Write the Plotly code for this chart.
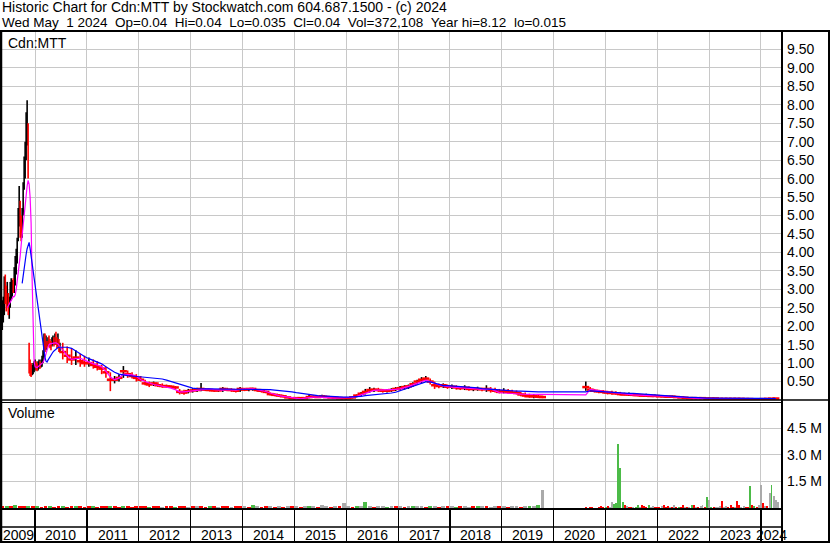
import plotly.graph_objects as go
import pandas as pd
import numpy as np

# ---------------- DATA ----------------
# weekly bars, mid-May 2009 .. late June 2010
wk_start = "2009-05-15"
wk_hi = [2.7, 2.8, 3.35, 3.4, 3.1, 3.2, 2.9, 2.8, 3.2, 3.3,
         3.25, 3.3, 3.6, 3.9, 4.1, 4.4, 5.2, 5.8, 5.4, 5.0,
         5.2, 5.9, 6.6, 7.0, 7.8, 8.12, 7.5, 1.55, 1.1, 1.0,
         0.95, 1.0, 1.05, 1.1, 1.05, 1.0, 1.05, 1.1, 1.05, 1.1,
         1.2, 1.35, 1.8, 1.8, 1.75, 1.6, 1.7, 1.75, 1.65, 1.6,
         1.7, 1.75, 1.7, 1.8, 1.85, 1.7, 1.8, 1.65, 1.55]
wk_lo = [1.9, 2.1, 2.3, 2.6, 2.4, 2.5, 2.3, 2.2, 2.5, 2.7,
         2.8, 2.9, 2.9, 3.1, 3.4, 3.7, 4.3, 4.7, 4.4, 4.3,
         4.4, 5.0, 5.7, 6.0, 6.5, 6.9, 6.0, 0.72, 0.65, 0.62,
         0.67, 0.7, 0.75, 0.8, 0.8, 0.78, 0.8, 0.85, 0.85, 0.88,
         0.9, 1.0, 1.15, 1.3, 1.35, 1.4, 1.45, 1.45, 1.4, 1.35,
         1.45, 1.5, 1.45, 1.5, 1.5, 1.4, 1.45, 1.3, 1.3]
wk_cl = [2.0, 2.4, 3.0, 2.8, 2.6, 2.9, 2.4, 2.5, 2.9, 3.0,
         3.1, 3.0, 3.4, 3.6, 3.9, 4.2, 4.9, 5.3, 4.7, 4.6,
         5.0, 5.6, 6.3, 6.8, 7.2, 7.6, 6.5, 0.9, 0.8, 0.75,
         0.8, 0.85, 0.9, 0.95, 0.9, 0.85, 0.95, 1.0, 0.95, 1.0,
         1.05, 1.25, 1.55, 1.5, 1.55, 1.5, 1.6, 1.55, 1.5, 1.45,
         1.6, 1.6, 1.55, 1.6, 1.55, 1.5, 1.55, 1.4, 1.4]
wk_ma_short = [None, None, None, None, None, 2.5, 2.55, 2.6, 2.65, 2.7,
               2.75, 2.8, 2.8, 2.85, 3.0, 3.2, 3.4, 3.6, 3.9, 4.2,
               4.5, 4.7, 5.0, 5.3, 5.55, 5.8, 5.95, 5.85, 5.5, 4.8,
               3.3, 1.8, 1.05, 0.9, 0.88, 0.88, 0.9, 0.92, 0.95, 0.97,
               1.0, 1.02, 1.08, 1.15, 1.25, 1.35, 1.45, 1.5, 1.52, 1.53,
               1.54, 1.55, 1.55, 1.55, 1.55, 1.54, 1.52, 1.48, 1.45]
wk_ma_long = [None, None, None, None, None, None, None, None, None, None,
              None, None, None, None, None, None, None, None, None, None,
              3.16, 3.4, 3.6, 3.8, 3.95, 4.1, 4.2, 4.27, 4.1, 3.9,
              3.7, 3.5, 3.3, 3.1, 2.9, 2.7, 2.5, 2.3, 2.1, 1.9,
              1.7, 1.5, 1.3, 1.15, 1.05, 1.03, 1.08, 1.13, 1.18, 1.22,
              1.26, 1.3, 1.33, 1.36, 1.38, 1.4, 1.42, 1.43, 1.43]

# monthly bars, Jul 2010 .. Apr 2024 (None = trading halt)
mo_start = "2010-07-01"
mo_hi = [1.55, 1.45, 1.4, 1.35, 1.25, 1.2,
         1.15, 1.1, 1.05, 0.95, 0.9, 0.75, 0.65, 0.7, 0.92, 0.8, 0.75, 0.7,
         0.65, 0.55, 0.5, 0.5, 0.48, 0.45, 0.42, 0.4, 0.38, 0.3, 0.28, 0.3,
         0.32, 0.33, 0.46, 0.32, 0.3, 0.3, 0.3, 0.35, 0.33, 0.32, 0.3, 0.35,
         0.33, 0.32, 0.33, 0.3, 0.3, 0.25, 0.2, 0.18, 0.16, 0.14, 0.1, 0.08,
         0.08, 0.07, 0.08, 0.14, 0.12, 0.11, 0.14, 0.12, 0.1, 0.08, 0.07, 0.07,
         0.08, 0.1, 0.15, 0.22, 0.3, 0.35, 0.33, 0.33, 0.3, 0.3, 0.32, 0.35,
         0.38, 0.4, 0.42, 0.48, 0.55, 0.62, 0.65, 0.58, 0.5, 0.45, 0.45, 0.42,
         0.42, 0.4, 0.38, 0.4, 0.37, 0.35, 0.36, 0.34, 0.4, 0.35, 0.33, 0.3,
         0.32, 0.3, 0.28, 0.26, 0.22, 0.2, 0.17, 0.16, 0.15, 0.12, None, None,
         None, None, None, None, None, None, None, 0.5, 0.35, 0.3, 0.28, 0.27,
         0.25, 0.25, 0.24, 0.22, 0.2, 0.2, 0.18, 0.17, 0.16, 0.17, 0.15, 0.15,
         0.14, 0.13, 0.12, 0.12, 0.11, 0.1, 0.09, 0.08, 0.08, 0.07, 0.07, 0.07,
         0.06, 0.06, 0.05, 0.05, 0.05, 0.05, 0.05, 0.05, 0.05, 0.05, 0.04, 0.04,
         0.04, 0.045, 0.05, 0.05]
mo_lo = [1.1, 1.0, 0.95, 0.95, 0.9, 0.9,
         0.9, 0.85, 0.8, 0.7, 0.6, 0.24, 0.45, 0.5, 0.6, 0.6, 0.58, 0.5,
         0.5, 0.4, 0.35, 0.38, 0.35, 0.33, 0.33, 0.33, 0.3, 0.15, 0.14, 0.18,
         0.2, 0.22, 0.24, 0.24, 0.23, 0.22, 0.22, 0.22, 0.24, 0.22, 0.2, 0.22,
         0.24, 0.24, 0.25, 0.22, 0.2, 0.18, 0.12, 0.1, 0.08, 0.07, 0.05, 0.03,
         0.03, 0.03, 0.03, 0.05, 0.06, 0.06, 0.07, 0.06, 0.05, 0.04, 0.03, 0.03,
         0.03, 0.04, 0.07, 0.1, 0.15, 0.2, 0.22, 0.22, 0.2, 0.2, 0.22, 0.24,
         0.26, 0.28, 0.3, 0.35, 0.42, 0.45, 0.5, 0.42, 0.3, 0.32, 0.33, 0.3,
         0.3, 0.28, 0.27, 0.27, 0.25, 0.24, 0.25, 0.24, 0.22, 0.2, 0.2, 0.18,
         0.18, 0.17, 0.16, 0.15, 0.1, 0.07, 0.06, 0.05, 0.05, 0.05, None, None,
         None, None, None, None, None, None, None, 0.25, 0.22, 0.2, 0.18, 0.17,
         0.15, 0.14, 0.14, 0.12, 0.12, 0.11, 0.1, 0.1, 0.09, 0.09, 0.08, 0.08,
         0.08, 0.07, 0.07, 0.06, 0.06, 0.05, 0.04, 0.03, 0.03, 0.03, 0.03, 0.02,
         0.02, 0.02, 0.015, 0.015, 0.02, 0.02, 0.02, 0.015, 0.015, 0.015, 0.015, 0.015,
         0.015, 0.02, 0.02, 0.03]
mo_cl = [1.3, 1.2, 1.1, 1.15, 1.05, 1.0,
         1.0, 0.95, 0.9, 0.85, 0.75, 0.55, 0.55, 0.6, 0.78, 0.7, 0.65, 0.6,
         0.55, 0.45, 0.42, 0.45, 0.4, 0.38, 0.37, 0.36, 0.34, 0.22, 0.2, 0.24,
         0.26, 0.27, 0.3, 0.28, 0.27, 0.26, 0.26, 0.3, 0.28, 0.27, 0.25, 0.3,
         0.28, 0.3, 0.3, 0.27, 0.25, 0.22, 0.16, 0.14, 0.12, 0.1, 0.07, 0.05,
         0.05, 0.05, 0.05, 0.08, 0.09, 0.08, 0.1, 0.08, 0.07, 0.06, 0.05, 0.05,
         0.05, 0.07, 0.12, 0.17, 0.22, 0.27, 0.28, 0.27, 0.25, 0.25, 0.27, 0.3,
         0.32, 0.35, 0.37, 0.43, 0.5, 0.55, 0.58, 0.5, 0.4, 0.38, 0.4, 0.36,
         0.36, 0.34, 0.32, 0.33, 0.3, 0.3, 0.3, 0.29, 0.3, 0.27, 0.25, 0.22,
         0.24, 0.22, 0.2, 0.19, 0.15, 0.12, 0.1, 0.1, 0.09, 0.08, None, None,
         None, None, None, None, None, None, None, 0.35, 0.28, 0.25, 0.23, 0.22,
         0.2, 0.19, 0.18, 0.16, 0.15, 0.15, 0.14, 0.13, 0.12, 0.12, 0.11, 0.11,
         0.1, 0.1, 0.09, 0.09, 0.08, 0.07, 0.06, 0.05, 0.05, 0.05, 0.05, 0.04,
         0.04, 0.04, 0.03, 0.03, 0.03, 0.03, 0.03, 0.03, 0.025, 0.025, 0.02, 0.02,
         0.025, 0.03, 0.035, 0.04]
mo_ma_short = [1.35, 1.2, 1.1, 1.12, 1.13, 1.08,
               1.02, 0.98, 0.95, 0.9, 0.78, 0.62, 0.55, 0.6, 0.7, 0.7, 0.68, 0.64,
               0.55, 0.5, 0.46, 0.42, 0.4, 0.38, 0.35, 0.32, 0.28, 0.22, 0.22, 0.23,
               0.24, 0.26, 0.28, 0.29, 0.3, 0.28, 0.27, 0.27, 0.28, 0.27, 0.27, 0.29,
               0.3, 0.3, 0.3, 0.28, 0.26, 0.23, 0.19, 0.15, 0.12, 0.1, 0.08, 0.05,
               0.04, 0.03, 0.05, 0.07, 0.08, 0.08, 0.08, 0.07, 0.06, 0.05, 0.05, 0.05,
               0.05, 0.07, 0.1, 0.14, 0.19, 0.23, 0.26, 0.27, 0.27, 0.27, 0.28, 0.29,
               0.3, 0.33, 0.37, 0.41, 0.46, 0.5, 0.54, 0.5, 0.45, 0.41, 0.38, 0.36,
               0.35, 0.34, 0.33, 0.33, 0.32, 0.31, 0.3, 0.28, 0.28, 0.3, 0.25, 0.2,
               0.19, 0.19, 0.18, 0.17, 0.16, 0.16, 0.15, 0.15, 0.14, 0.14, 0.14, 0.14,
               0.14, 0.14, 0.14, 0.14, 0.14, 0.14, 0.14, 0.14, 0.29, 0.27, 0.25, 0.23,
               0.22, 0.2, 0.19, 0.17, 0.16, 0.15, 0.14, 0.13, 0.13, 0.12, 0.12, 0.11,
               0.11, 0.1, 0.09, 0.08, 0.07, 0.06, 0.05, 0.05, 0.05, 0.04, 0.04, 0.035,
               0.035, 0.03, 0.03, 0.03, 0.03, 0.03, 0.03, 0.03, 0.03, 0.025, 0.025, 0.025,
               0.025, 0.03, 0.03, 0.035]
mo_ma_long = [1.42, 1.43, 1.4, 1.32, 1.25, 1.18,
              1.12, 1.07, 1.03, 0.98, 0.9, 0.82, 0.75, 0.7, 0.67, 0.66, 0.65, 0.64,
              0.63, 0.62, 0.61, 0.6, 0.59, 0.57, 0.54, 0.5, 0.46, 0.42, 0.38, 0.35,
              0.32, 0.31, 0.3, 0.3, 0.3, 0.3, 0.29, 0.29, 0.29, 0.29, 0.29, 0.3,
              0.3, 0.3, 0.3, 0.3, 0.3, 0.29, 0.28, 0.27, 0.26, 0.25, 0.24, 0.22,
              0.2, 0.18, 0.16, 0.15, 0.14, 0.12, 0.11, 0.1, 0.09, 0.08, 0.08, 0.08,
              0.08, 0.08, 0.09, 0.1, 0.12, 0.13, 0.14, 0.15, 0.16, 0.18, 0.19, 0.21,
              0.25, 0.3, 0.34, 0.38, 0.42, 0.46, 0.49, 0.49, 0.46, 0.42, 0.39, 0.39,
              0.38, 0.38, 0.38, 0.37, 0.36, 0.34, 0.33, 0.31, 0.3, 0.28, 0.27, 0.27,
              0.26, 0.25, 0.25, 0.24, 0.24, 0.23, 0.23, 0.22, 0.22, 0.22, 0.22, 0.22,
              0.22, 0.22, 0.22, 0.22, 0.22, 0.22, 0.22, 0.22, 0.25, 0.24, 0.24, 0.23,
              0.22, 0.22, 0.21, 0.2, 0.19, 0.18, 0.18, 0.17, 0.17, 0.16, 0.16, 0.15,
              0.14, 0.13, 0.12, 0.11, 0.1, 0.09, 0.08, 0.07, 0.07, 0.06, 0.06, 0.05,
              0.05, 0.05, 0.05, 0.05, 0.05, 0.05, 0.05, 0.05, 0.05, 0.05, 0.05, 0.05,
              0.05, 0.045, 0.045, 0.04]

# volume (millions) - monthly May 2009 .. Oct 2019
vol_old_start = "2009-05-01"
vol_old = [0.12, 0.1, 0.1, 0.15, 0.1, 0.12, 0.1, 0.1,
           0.1, 0.08, 0.1, 0.1, 0.08, 0.1, 0.1, 0.08, 0.1, 0.1, 0.1, 0.08,
           0.1, 0.1, 0.08, 0.1, 0.1, 0.12, 0.1, 0.08, 0.1, 0.1, 0.08, 0.1,
           0.1, 0.1, 0.08, 0.1, 0.1, 0.08, 0.1, 0.1, 0.08, 0.1, 0.1, 0.08,
           0.1, 0.1, 0.1, 0.08, 0.1, 0.1, 0.08, 0.1, 0.1, 0.08, 0.1, 0.1,
           0.1, 0.08, 0.18, 0.1, 0.08, 0.1, 0.1, 0.08, 0.1, 0.08, 0.1, 0.1,
           0.1, 0.08, 0.1, 0.12, 0.1, 0.08, 0.15, 0.1, 0.08, 0.1, 0.1, 0.3,
           0.1, 0.08, 0.1, 0.12, 0.35, 0.1, 0.08, 0.1, 0.1, 0.08, 0.1, 0.1,
           0.1, 0.08, 0.1, 0.1, 0.12, 0.1, 0.08, 0.1, 0.1, 0.08, 0.1, 0.1,
           0.1, 0.08, 0.1, 0.1, 0.08, 0.1, 0.1, 0.12, 0.1, 0.08, 0.1, 0.1,
           0.1, 0.08, 0.1, 0.1, 0.08, 0.1, 0.1, 0.12, 0.15, 1.0]
vol_old_dir = ["d", "u", "d", "u", "d", "d", "u", "d",
               "u", "d", "d", "u", "d", "d", "u", "d", "d", "u", "d", "d",
               "d", "u", "d", "d", "d", "u", "d", "d", "u", "d", "d", "d",
               "d", "d", "u", "d", "d", "n", "d", "d", "u", "d", "d", "n",
               "d", "n", "d", "d", "u", "d", "n", "d", "d", "n", "d", "d",
               "n", "d", "u", "n", "d", "d", "n", "d", "n", "d", "n", "d",
               "n", "d", "n", "u", "n", "d", "n", "n", "d", "n", "d", "n",
               "n", "d", "u", "n", "u", "n", "d", "n", "n", "u", "n", "d",
               "n", "d", "n", "u", "n", "n", "d", "u", "n", "d", "n", "d",
               "n", "u", "d", "n", "n", "d", "u", "n", "d", "n", "n", "d",
               "n", "d", "n", "n", "d", "n", "u", "n", "u", "n"]

# volume (millions) - semi-monthly Aug 2020 .. May 2024
vol_new_start = "2020-08-01"
vol_new = [0.03, 0.05, 0.03, 0.04, 0.06, 0.03, 0.03, 0.05, 0.1, 0.05,
           0.05, 0.1, 0.05, 0.33, 0.25, 0.3, 3.6, 2.25, 0.35, 0.2,
           0.1, 0.06, 0.06, 0.05, 0.05, 0.2, 0.05, 0.2, 0.1, 0.05,
           0.15, 0.05, 0.1, 0.05, 0.05, 0.05, 0.1, 0.15, 0.05, 0.1,
           0.05, 0.05, 0.2, 0.05, 0.05, 0.05, 0.15, 0.05, 0.05, 0.05,
           0.15, 0.15, 0.05, 0.05, 0.1, 0.15, 0.05, 0.62, 0.45, 0.05,
           0.05, 0.05, 0.08, 0.1, 0.4, 0.05, 0.1, 0.05, 0.2, 0.05,
           0.05, 0.4, 0.15, 0.05, 0.1, 0.05, 0.05, 1.24, 0.2, 0.1,
           0.05, 0.15, 1.3, 0.3, 0.1, 0.1, 0.86, 1.3, 0.68, 0.45,
           0.37]
vol_new_dir = ["n", "d", "n", "d", "d", "n", "n", "d", "d", "d",
               "u", "d", "n", "n", "u", "u", "u", "u", "u", "d",
               "n", "d", "d", "n", "u", "u", "n", "d", "d", "d",
               "u", "n", "n", "d", "d", "d", "n", "d", "d", "d",
               "n", "d", "n", "d", "u", "d", "d", "n", "d", "n",
               "u", "d", "n", "d", "n", "n", "d", "u", "n", "u",
               "d", "n", "n", "n", "d", "n", "n", "d", "d", "d",
               "n", "d", "d", "n", "n", "d", "d", "u", "d", "u",
               "d", "n", "n", "d", "n", "d", "n", "u", "n", "n",
               "n"]

year_labels = [str(y) for y in range(2009, 2025)]
price_ticks = [0.5, 1.0, 1.5, 2.0, 2.5, 3.0, 3.5, 4.0, 4.5, 5.0,
               5.5, 6.0, 6.5, 7.0, 7.5, 8.0, 8.5, 9.0, 9.5]
vol_ticks = [1.5, 3.0, 4.5]
vol_tick_text = ["1.5 M", "3.0 M", "4.5 M"]

header1 = "Historic Chart for Cdn:MTT by Stockwatch.com 604.687.1500 - (c) 2024"
header2 = ("Wed May\u00a0\u00a01 2024\u00a0\u00a0Op=0.04\u00a0\u00a0Hi=0.04\u00a0\u00a0"
           "Lo=0.035\u00a0\u00a0Cl=0.04\u00a0\u00a0Vol=372,108\u00a0\u00a0"
           "Year hi=8.12\u00a0\u00a0lo=0.015")

# ---------------- BUILD ----------------
W, H = 830, 543
FONT = "Arial, Liberation Sans, sans-serif"
FS = 14


def px(x):
    return x / W


def py(y):
    return (H - y) / H


x_start = pd.Timestamp("2009-05-13")
x_end = pd.Timestamp("2024-05-28")

d_wk = pd.date_range(wk_start, periods=len(wk_cl), freq="7D")
d_mo = pd.date_range(mo_start, periods=len(mo_cl), freq="MS") + pd.Timedelta(days=14)

df = pd.DataFrame({
    "d": list(d_wk) + list(d_mo),
    "hi": wk_hi + mo_hi, "lo": wk_lo + mo_lo, "cl": wk_cl + mo_cl,
    "ms": wk_ma_short + mo_ma_short, "ml": wk_ma_long + mo_ma_long,
    "weekly": [True] * len(wk_cl) + [False] * len(mo_cl),
}).astype({"hi": float, "lo": float, "cl": float, "ms": float, "ml": float})

bars = df.dropna(subset=["cl"]).copy()
bars["up"] = bars["cl"] >= bars["cl"].shift(1).fillna(0)

fig = go.Figure()

# high-low bars (black = up, red = down)
for is_up, col in [(True, "black"), (False, "#ff0000")]:
    b = bars[bars["up"] == is_up]
    fig.add_trace(go.Scatter(
        x=b["d"], y=b["cl"], mode="markers",
        marker=dict(size=1, opacity=0),
        error_y=dict(type="data", symmetric=False,
                     array=(b["hi"] - b["cl"]).tolist(),
                     arrayminus=(b["cl"] - b["lo"]).tolist(),
                     color=col, thickness=1.6, width=0),
        xaxis="x", yaxis="y", hoverinfo="skip"))

# close ticks (monthly part)
m = bars[~bars["weekly"]]
fig.add_trace(go.Scatter(
    x=m["d"], y=m["cl"], mode="markers",
    marker=dict(symbol="line-ew", size=5, line=dict(width=2.5, color="#ff0000")),
    xaxis="x", yaxis="y", hoverinfo="skip"))

# moving averages
fig.add_trace(go.Scatter(x=df["d"], y=df["ms"], mode="lines",
                         line=dict(color="#ff00ff", width=1.2),
                         xaxis="x", yaxis="y", hoverinfo="skip"))
fig.add_trace(go.Scatter(x=df["d"], y=df["ml"], mode="lines",
                         line=dict(color="#0000ff", width=1.2),
                         xaxis="x", yaxis="y", hoverinfo="skip"))

# volume
dir_color = {"u": "#4cbb48", "d": "#ff0000", "n": "#aaaaaa"}
d_vo = pd.date_range(vol_old_start, periods=len(vol_old), freq="MS") + pd.Timedelta(days=14)
d_vn = pd.date_range(vol_new_start, periods=len(vol_new), freq="SMS")
day_ms = 86400000
fig.add_trace(go.Bar(x=d_vo, y=[v * 1e6 for v in vol_old],
                     marker=dict(color=[dir_color[c] for c in vol_old_dir], line_width=0),
                     width=[27 * day_ms] * len(vol_old),
                     xaxis="x2", yaxis="y2", hoverinfo="skip"))
fig.add_trace(go.Bar(x=d_vn, y=[v * 1e6 for v in vol_new],
                     marker=dict(color=[dir_color[c] for c in vol_new_dir], line_width=0),
                     width=[14 * day_ms] * len(vol_new),
                     xaxis="x2", yaxis="y2", hoverinfo="skip"))

# empty trace for the year separator strip
fig.add_trace(go.Scatter(x=[x_start, x_end], y=[None, None], mode="lines",
                         xaxis="x3", yaxis="y3", hoverinfo="skip"))

xdom = [px(2), px(782)]
grid = "#c8c8c8"
common_x = dict(type="date", range=[x_start, x_end], domain=xdom,
                tick0="2010-01-01", dtick="M12", showticklabels=False,
                ticks="", zeroline=False, showline=False, fixedrange=True)

fig.update_layout(
    width=W, height=H,
    margin=dict(l=0, r=0, t=0, b=0),
    paper_bgcolor="white", plot_bgcolor="white",
    showlegend=False, hovermode=False, barmode="overlay", bargap=0,
    font=dict(family=FONT, size=FS, color="black"),
    xaxis=dict(common_x, anchor="y", showgrid=True, gridcolor=grid, gridwidth=1),
    xaxis2=dict(common_x, anchor="y2", matches="x", showgrid=True, gridcolor=grid, gridwidth=1),
    xaxis3=dict(common_x, anchor="y3", matches="x", showgrid=True, gridcolor="black", gridwidth=1.2),
    yaxis=dict(domain=[py(400), py(31)], range=[0, 10], side="right", anchor="x",
               tickvals=price_ticks, tickformat=".2f", showgrid=True, gridcolor=grid,
               gridwidth=1, zeroline=False, showline=False, ticks="",
               ticklabelstandoff=4,
               tickfont=dict(family=FONT, size=FS, color="black"), fixedrange=True),
    yaxis2=dict(domain=[py(509), py(402)], range=[-0.05e6, 5.962e6], side="right", anchor="x2",
                tickvals=[v * 1e6 for v in vol_ticks], ticktext=vol_tick_text,
                showgrid=True, gridcolor=grid, gridwidth=1, zeroline=False,
                showline=False, ticks="", ticklabelstandoff=4,
                tickfont=dict(family=FONT, size=FS, color="black"), fixedrange=True),
    yaxis3=dict(domain=[0, py(509)], range=[0, 1], visible=False, fixedrange=True),
)

# frame lines (paper coordinates)
frame = [
    (0, 31, W, 31, 2), (0, 400, W, 400, 1.6), (0, 402.5, 782, 402.5, 1.2),
    (0, 509, 782, 509, 2), (0, 527, 782, 527, 1.4), (0, 542, W, 542, 2),
    (1, 31, 1, H, 2.5), (782, 31, 782, H, 2), (829, 31, 829, H, 2),
]
for x0, y0, x1, y1, w in frame:
    fig.add_shape(type="line", xref="paper", yref="paper",
                  x0=px(x0), y0=py(y0), x1=px(x1), y1=py(y1),
                  line=dict(color="black", width=w), layer="above")

ann = [
    (header1, 1, 7, FS), (header2, 1, 22.5, 13.5),
    ("Cdn:MTT", 7, 43, FS), ("Volume", 7, 413, FS),
]
for txt, x, y, fs in ann:
    fig.add_annotation(text=txt, xref="paper", yref="paper", x=px(x), y=py(y),
                       xanchor="left", yanchor="middle", showarrow=False,
                       borderpad=0,
                       font=dict(family=FONT, size=fs, color="black"))

# year labels centred in each visible year
for lab in year_labels:
    y0 = max(pd.Timestamp(f"{lab}-01-01"), x_start)
    y1 = min(pd.Timestamp(f"{int(lab) + 1}-01-01"), x_end)
    mid = y0 + (y1 - y0) / 2
    fig.add_annotation(text=lab, xref="x", yref="paper", x=mid, y=py(535),
                       xanchor="center", yanchor="middle", showarrow=False,
                       borderpad=0,
                       font=dict(family=FONT, size=FS, color="black"))

fig.write_html("out.html",
               config={"displayModeBar": False, "staticPlot": True},
               post_script="document.body.style.margin='0';"
                           "document.body.style.padding='0';"
                           "document.body.style.overflow='hidden';")
